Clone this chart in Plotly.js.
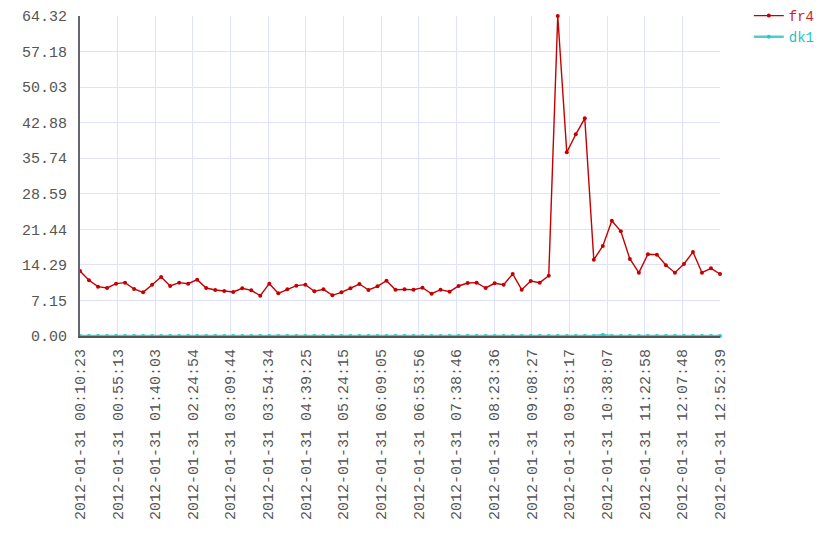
<!DOCTYPE html>
<html>
<head>
<meta charset="utf-8">
<script src="https://cdn.plot.ly/plotly-3.0.1.min.js"></script>
<style>html,body{margin:0;padding:0;background:#fff;}#chart{width:840px;height:560px;}</style>
</head>
<body>
<div id="chart"></div>
<script>
var times = [
"2012-01-31 00:10:23","2012-01-31 00:21:07","2012-01-31 00:31:51","2012-01-31 00:42:36","2012-01-31 00:53:20","2012-01-31 01:04:04",
"2012-01-31 01:14:48","2012-01-31 01:25:32","2012-01-31 01:36:16","2012-01-31 01:47:01","2012-01-31 01:57:45","2012-01-31 02:08:29",
"2012-01-31 02:19:13","2012-01-31 02:29:57","2012-01-31 02:40:41","2012-01-31 02:51:26","2012-01-31 03:02:10","2012-01-31 03:12:54",
"2012-01-31 03:23:38","2012-01-31 03:34:22","2012-01-31 03:45:06","2012-01-31 03:55:51","2012-01-31 04:06:35","2012-01-31 04:17:19",
"2012-01-31 04:28:03","2012-01-31 04:38:47","2012-01-31 04:49:31","2012-01-31 05:00:16","2012-01-31 05:11:00","2012-01-31 05:21:44",
"2012-01-31 05:32:28","2012-01-31 05:43:12","2012-01-31 05:53:56","2012-01-31 06:04:41","2012-01-31 06:15:25","2012-01-31 06:26:09",
"2012-01-31 06:36:53","2012-01-31 06:47:37","2012-01-31 06:58:21","2012-01-31 07:09:06","2012-01-31 07:19:50","2012-01-31 07:30:34",
"2012-01-31 07:41:18","2012-01-31 07:52:02","2012-01-31 08:02:46","2012-01-31 08:13:31","2012-01-31 08:24:15","2012-01-31 08:34:59",
"2012-01-31 08:45:43","2012-01-31 08:56:27","2012-01-31 09:07:12","2012-01-31 09:17:56","2012-01-31 09:28:40","2012-01-31 09:39:24",
"2012-01-31 09:50:08","2012-01-31 10:00:52","2012-01-31 10:11:37","2012-01-31 10:22:21","2012-01-31 10:33:05","2012-01-31 10:43:49",
"2012-01-31 10:54:33","2012-01-31 11:05:17","2012-01-31 11:16:02","2012-01-31 11:26:46","2012-01-31 11:37:30","2012-01-31 11:48:14",
"2012-01-31 11:58:58","2012-01-31 12:09:42","2012-01-31 12:20:27","2012-01-31 12:31:11","2012-01-31 12:41:55","2012-01-31 12:52:39"
];

var fr4 = [
13.07,11.19,9.92,9.65,10.52,10.72,9.45,8.77,10.32,11.86,10.05,10.72,
10.52,11.32,9.65,9.25,9.05,8.84,9.58,9.18,8.10,10.52,8.57,9.38,
10.12,10.32,8.97,9.38,8.17,8.77,9.58,10.45,9.25,9.98,11.12,9.31,
9.38,9.31,9.72,8.50,9.31,8.91,10.05,10.65,10.72,9.65,10.59,10.32,
12.46,9.31,11.06,10.72,12.12,64.32,36.92,40.54,43.75,15.34,18.09,23.18,
21.04,15.48,12.73,16.42,16.35,14.21,12.73,14.47,16.88,12.73,13.60,12.46
];

var dk1 = [
0,0,0,0,0,0,0,0,0,0,0,0,
0,0,0,0,0,0,0,0,0,0,0,0,
0,0,0,0,0,0,0,0,0,0,0,0,
0,0,0,0,0,0,0,0,0,0,0,0,
0,0,0,0,0,0,0,0,0,0,0.2,0,
0,0,0,0,0,0,0,0,0,0,0,0
];

var xTickLabels = [
"2012-01-31 00:10:23","2012-01-31 00:55:13","2012-01-31 01:40:03","2012-01-31 02:24:54","2012-01-31 03:09:44",
"2012-01-31 03:54:34","2012-01-31 04:39:25","2012-01-31 05:24:15","2012-01-31 06:09:05","2012-01-31 06:53:56",
"2012-01-31 07:38:46","2012-01-31 08:23:36","2012-01-31 09:08:27","2012-01-31 09:53:17","2012-01-31 10:38:07",
"2012-01-31 11:22:58","2012-01-31 12:07:48","2012-01-31 12:52:39"
];

var yTicks = [0, 7.147, 14.293, 21.44, 28.587, 35.733, 42.88, 50.027, 57.173, 64.32];
var yTickLabels = ["0.00","7.15","14.29","21.44","28.59","35.74","42.88","50.03","57.18","64.32"];

var mono = "Liberation Mono, DejaVu Sans Mono, monospace";

var traces = [
  {
    x: times, y: fr4, type: "scatter", mode: "lines+markers",
    name: '<span style="color:#cc2222">fr4</span>',
    line: {color: "#c40000", width: 1.4},
    marker: {color: "#c40000", size: 4},
    cliponaxis: false
  },
  {
    x: times, y: dk1, type: "scatter", mode: "lines+markers",
    name: '<span style="color:#22c4c4">dk1</span>',
    line: {color: "rgba(20,190,190,0.75)", width: 2.5},
    marker: {color: "#22cccc", size: 4},
    cliponaxis: false
  }
];

var layout = {
  width: 840, height: 560,
  margin: {l: 80, r: 120, t: 16, b: 224, pad: 0, autoexpand: false},
  paper_bgcolor: "#ffffff",
  plot_bgcolor: "#ffffff",
  font: {family: mono, size: 15, color: "#555555"},
  showlegend: true,
  legend: {
    x: 1.045, y: 1.05, xanchor: "left", yanchor: "top",
    font: {family: mono, size: 14, color: "#555555"},
    bgcolor: "rgba(0,0,0,0)", borderwidth: 0,
    tracegroupgap: 0, itemwidth: 30
  },
  xaxis: {
    type: "date",
    range: [times[0], times[times.length - 1]],
    tickmode: "array",
    tickvals: xTickLabels,
    ticktext: xTickLabels,
    tickangle: -90,
    ticks: "",
    ticklabelstandoff: 5,
    showgrid: true, gridcolor: "#e0e0ff", gridwidth: 1,
    showline: true, linecolor: "#555555", linewidth: 2,
    zeroline: false,
    tickfont: {family: mono, size: 15, color: "#555555"}
  },
  yaxis: {
    range: [0, 64.32],
    tickmode: "array",
    tickvals: yTicks,
    ticktext: yTickLabels,
    ticks: "",
    ticklabelstandoff: 8,
    showgrid: true, gridcolor: "#e0e0ff", gridwidth: 1,
    showline: true, linecolor: "#666670", linewidth: 2,
    zeroline: false,
    tickfont: {family: mono, size: 15, color: "#555555"}
  }
};

Plotly.newPlot("chart", traces, layout, {displayModeBar: false, staticPlot: true});
</script>
</body>
</html>
